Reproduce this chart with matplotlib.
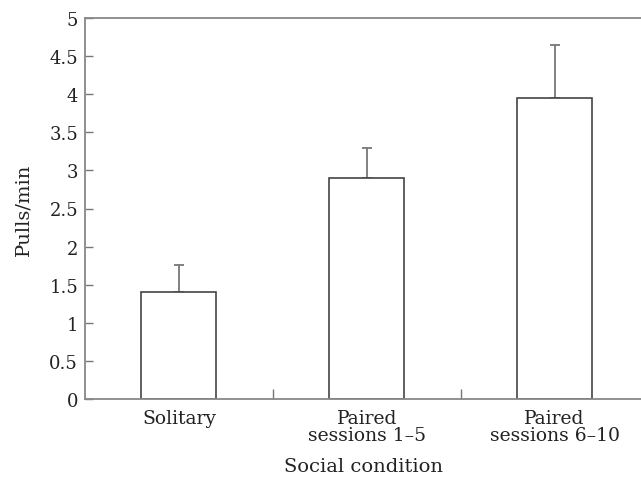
import matplotlib
matplotlib.use("Agg")
import matplotlib.pyplot as plt
from matplotlib.ticker import MultipleLocator, FixedLocator

conditions = ["Solitary", "Paired\nsessions 1\u20135", "Paired\nsessions 6\u201310"]
pulls_per_min = [1.41, 2.90, 3.95]
error_upper = [0.35, 0.40, 0.70]

plt.rcParams["font.family"] = ["DejaVu Serif"]
plt.rcParams["text.color"] = "#222222"
plt.rcParams["xtick.labelcolor"] = "#222222"
plt.rcParams["ytick.labelcolor"] = "#222222"
plt.rcParams["axes.labelcolor"] = "#222222"

fig = plt.figure(figsize=(6.41, 4.85), dpi=100)
ax = fig.add_axes([85 / 641, 85 / 485, 556 / 641, 381 / 485])

x = list(range(len(conditions)))
ax.bar(x, pulls_per_min, width=0.4, color="white", edgecolor="#444444", linewidth=1.2, zorder=2)
ax.errorbar(x, pulls_per_min, yerr=[[0] * len(x), error_upper], fmt="none",
            ecolor="#777777", elinewidth=1.3, capsize=3.6, capthick=1.3, zorder=1)

ax.set_xlim(-0.5, 2.46)
ax.set_ylim(0, 5)
ax.yaxis.set_major_locator(MultipleLocator(0.5))
ax.set_yticklabels([f"{v:g}" for v in ax.get_yticks()])

ax.set_xticks(x)
ax.set_xticklabels(conditions, linespacing=0.95)
ax.xaxis.set_minor_locator(FixedLocator([0.5, 1.5]))
ax.tick_params(axis="x", which="major", length=0, pad=7, labelsize=13.5)
ax.tick_params(axis="x", which="minor", direction="in", length=7, width=1, color="#777777")
ax.tick_params(axis="y", direction="in", length=5.5, width=1, color="#777777", labelsize=13, pad=5)

for side in ["left", "bottom", "top"]:
    ax.spines[side].set_color("#888888")
    ax.spines[side].set_linewidth(1.3)
ax.spines["right"].set_visible(False)

ax.set_ylabel("Pulls/min", fontsize=14, labelpad=12)
ax.set_xlabel("Social condition", fontsize=14, labelpad=9)

fig.savefig("out.png", dpi=100)
